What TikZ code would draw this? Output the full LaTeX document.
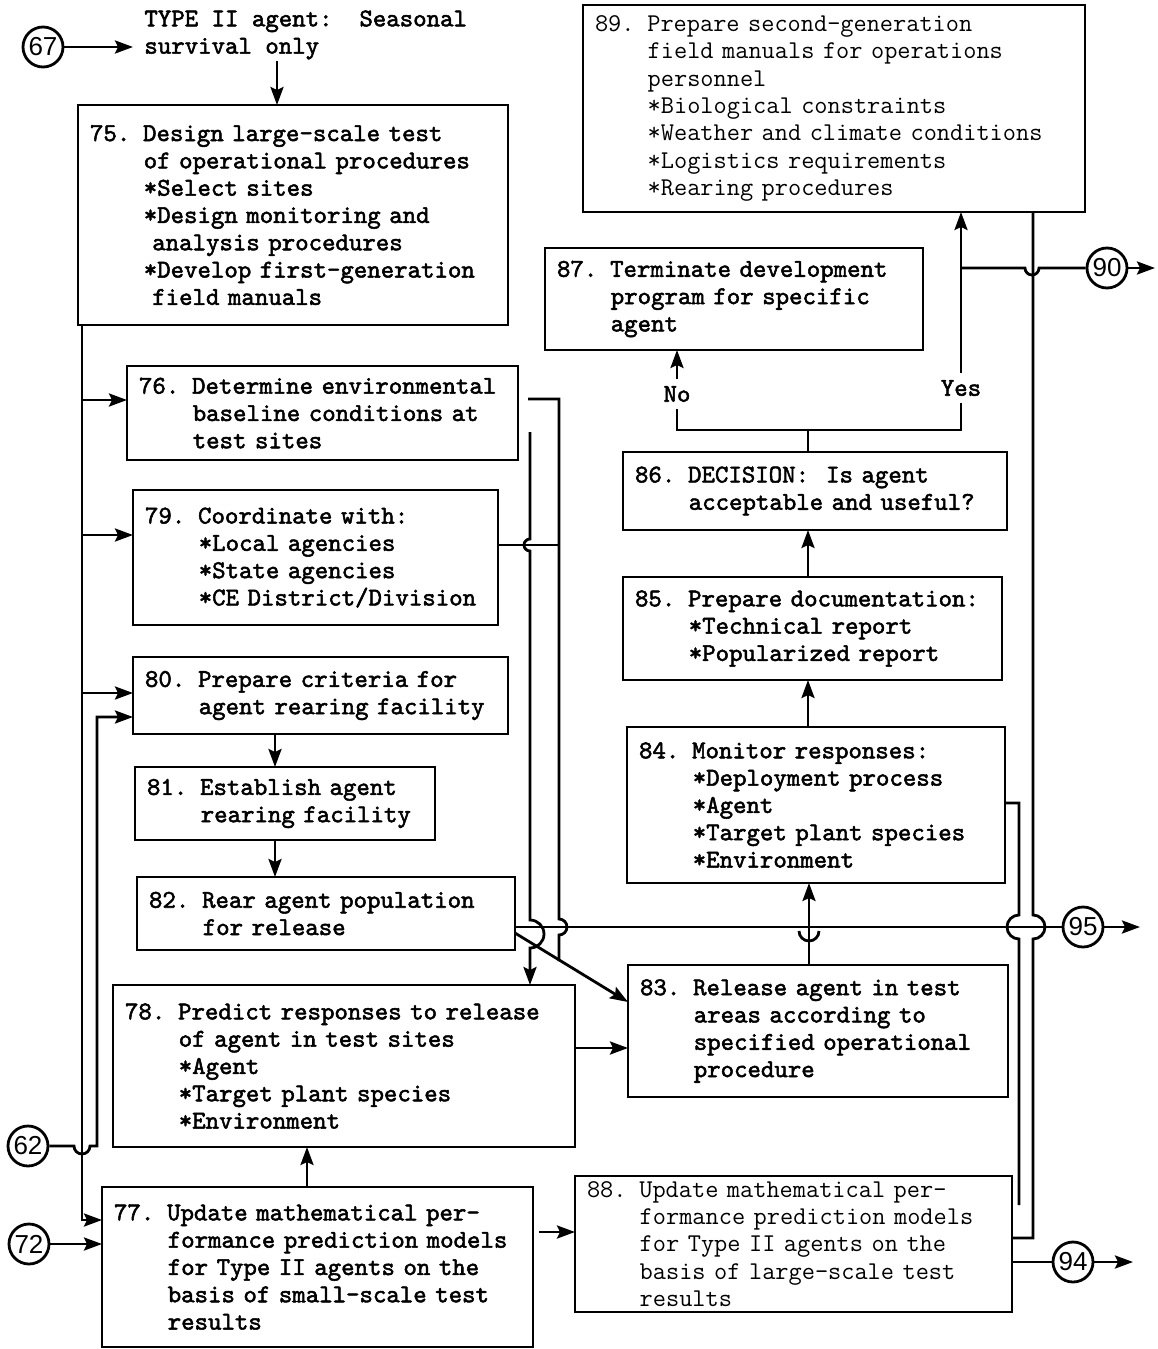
\documentclass[tikz,border=0pt]{standalone}
\usepackage{fontspec}
\newfontfamily\cf{Liberation Sans}
\newfontfamily\twb{lmmono10-regular.otf}[FakeBold=2]
\usetikzlibrary{arrows.meta}
\newcommand\ind{\hphantom{0000}}
\newcommand\tw{\ttfamily\fontsize{12.8}{13.65}\selectfont}
\newcommand\tb{\twb\fontsize{12.8}{13.65}\selectfont}
\tikzset{
  box/.style={draw, anchor=north west, align=left, inner xsep=6pt, inner ysep=0pt, outer sep=0pt,
    font=\tb},
  thinbox/.style={box, font=\tw},
  conn/.style={circle, draw, minimum size=20pt, inner sep=0pt, font=\cf\fontsize{13}{13}\selectfont},
  hdr/.style={anchor=north west, align=left, inner xsep=5pt, inner ysep=0pt, font=\tb},
  lbl/.style={inner xsep=2pt, inner ysep=3pt, font=\tb},
  arr/.style={-{Stealth[length=9pt,width=6.5pt,inset=1.5pt]}}
}

\begin{document}
\begin{tikzpicture}[x=0.5pt,y=-0.5pt,line width=1.4pt]
            \useasboundingbox (0,0) rectangle (1157,1349);

            \node[hdr] (hdr) at (133,9) {TYPE II agent:\ \ Seasonal\\survival only};
            \node[conn] (c67) at (43,47) {67};
            \node[conn] (c90) at (1107,268) {90};
            \node[conn] (c95) at (1083,927) {95};
            \node[conn] (c62) at (28,1146) {62};
            \node[conn] (c72) at (29,1244) {72};
            \node[conn] (c94) at (1073,1262) {94};
            \coordinate (o90) at (1155,268);
            \coordinate (o95) at (1140,927);
            \coordinate (o94) at (1133,1262);
            \coordinate (e84) at (1019,1205);
            \coordinate (dj) at (808,430);

            \node[box, text width=203pt, minimum height=110pt] (b75) at (78,105) {75. Design large-scale test\\\ind of operational procedures\\\ind *Select sites\\\ind *Design monitoring and\\\ind\ analysis procedures\\\ind *Develop first-generation\\\ind\ field manuals};
            \node[thinbox, text width=239pt, minimum height=103.5pt] (b89) at (583,5) {89. Prepare second-generation\\\ind field manuals for operations\\\ind personnel\\\ind *Biological constraints\\\ind *Weather and climate conditions\\\ind *Logistics requirements\\\ind *Rearing procedures};
            \node[box, text width=177pt, minimum height=51pt] (b87) at (545,248) {87. Terminate development\\\ind program for specific\\\ind agent};
            \node[box, text width=183.5pt, minimum height=47pt] (b76) at (127,366) {76. Determine environmental\\\ind baseline conditions at\\\ind test sites};
            \node[box, text width=170.5pt, minimum height=67.5pt] (b79) at (133,490) {79. Coordinate with:\\\ind *Local agencies\\\ind *State agencies\\\ind *CE District/Division};
            \node[box, text width=175.5pt, minimum height=38.5pt] (b80) at (133,657) {80. Prepare criteria for\\\ind agent rearing facility};
            \node[box, text width=138pt, minimum height=36.5pt] (b81) at (135,767) {81. Establish agent\\\ind rearing facility};
            \node[box, text width=177pt, minimum height=36.5pt] (b82) at (137,877) {82. Rear agent population\\\ind for release};
            \node[box, text width=219pt, minimum height=81pt] (b78) at (113,985) {78. Predict responses to release\\\ind of agent in test sites\\\ind *Agent\\\ind *Target plant species\\\ind *Environment};
            \node[box, text width=203.5pt, minimum height=80pt] (b77) at (102,1187) {77. Update mathematical per-\\\ind formance prediction models\\\ind for Type II agents on the\\\ind basis of small-scale test\\\ind results};
            \node[box, text width=180pt, minimum height=39pt] (b86) at (623,452) {86. DECISION:\ \ Is agent\\\ind acceptable and useful?};
            \node[box, text width=177.5pt, minimum height=51.5pt] (b85) at (623,577) {85. Prepare documentation:\\\ind *Technical report\\\ind *Popularized report};
            \node[box, text width=177pt, minimum height=78pt] (b84) at (627,727) {84. Monitor responses:\\\ind *Deployment process\\\ind *Agent\\\ind *Target plant species\\\ind *Environment};
            \node[box, text width=178pt, minimum height=66pt] (b83) at (628,965) {83. Release agent in test\\\ind areas according to\\\ind specified operational\\\ind procedure};
            \node[thinbox, text width=206.5pt, minimum height=68pt] (b88) at (575,1176) {88. Update mathematical per-\\\ind formance prediction models\\\ind for Type II agents on the\\\ind basis of large-scale test\\\ind results};

            \node[lbl] (lno) at (677,394) {No};
            \node[lbl] (lyes) at (961,388) {Yes};

            \draw[arr] (c67) -- (c67 -| hdr.west);
            \draw[arr] (hdr.south -| 277,0) -- (277,0 |- b75.north);

            \draw[arr] (82,0 |- b75.south) -- (82,1220) -- (b77.west |- 0,1220);
            \draw[arr] (82,400) -- (b76.west |- 0,400);
            \draw[arr] (82,535) -- (b79.west |- 0,535);
            \draw[arr] (82,693) -- (b80.west |- 0,693);
            \draw[arr] (c62.east) -- (74,1146) arc[start angle=180,end angle=360,radius=4pt] -- (97,1146) -- (97,717) -- (b80.west |- 0,717);
            \draw[arr] (c72) -- (c72 -| b77.west);

            \draw[arr] (b80.south -| 275,0) -- (275,0 |- b81.north);
            \draw[arr] (b81.south -| 275,0) -- (275,0 |- b82.north);
            \draw[arr] (b77.north -| 307,0) -- (307,0 |- b78.south);
            \draw[arr,shorten <=3pt] (b77.east |- 0,1232) -- (b88.west |- 0,1232);
            \draw[arr] (b78.east |- 0,1048) -- (b83.west |- 0,1048);

            \draw[shorten <=5pt] (b76.east |- 0,399) -- (559,399) -- (559,919) arc[start angle=90,end angle=-90,radius=4pt] -- (559,961);
            \draw (b79.east |- 0,545) -- (559,545);
            \draw[arr] (b76.east |- 0,432) ++(12,0) -- (530,539) arc[start angle=90,end angle=270,radius=3pt] -- (530,920) arc[start angle=90,end angle=-90,radius=7pt] -- (530,0 |- b78.north);

            \draw (b82.east |- 0,927) -- (c95.west);
            \draw[arr] (c95) -- (o95);
            \draw[arr] (b82.east |- 0,933) -- (b83.west |- 0,1002);

            \draw[arr] (b83.north -| 809,0) -- (809,0 |- b84.south);
            \draw (799,931) arc[start angle=180,end angle=360,radius=5pt];
            \draw[arr] (b84.north -| 808,0) -- (808,0 |- b85.south);
            \draw[arr] (b85.north -| 808,0) -- (808,0 |- b86.south);

            \draw (b86.north -| dj) -- (dj);
            \draw (lno.south) -- (lno.south |- dj) -- (lyes.south |- dj) -- (lyes.south);
            \draw[arr] (lno.north) -- (lno.north |- b87.south);
            \draw[arr] (lyes.north) -- (lyes.north |- b89.south);
            \draw (961,268) -- (1025,268) arc[start angle=180,end angle=360,radius=3.5pt] -- (c90.west);
            \draw[arr] (c90) -- (o90);

            \draw (b89.south -| 1033,0) -- (1033,915) arc[start angle=90,end angle=-90,radius=6pt] -- (1033,1238) -- (b88.east |- 0,1238);
            \draw (b84.east |- 0,803) -- (1019,803) -- (1019,915) arc[start angle=90,end angle=270,radius=6pt] -- (e84);
            \draw (b88.east |- 0,1262) -- (c94.west);
            \draw[arr] (c94) -- (o94);
        \end{tikzpicture}
\end{document}
